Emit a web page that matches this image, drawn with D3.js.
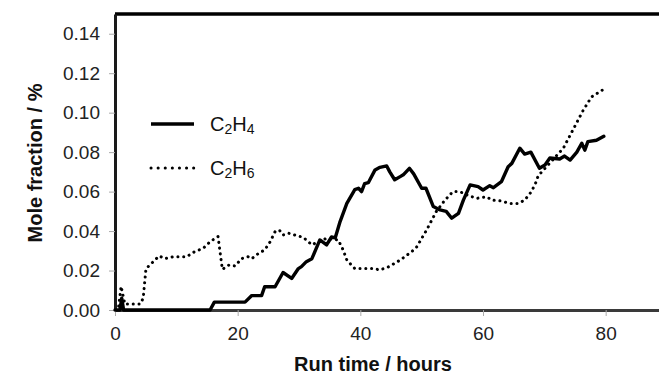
<!DOCTYPE html>
<html>
<head>
<meta charset="utf-8">
<script src="https://cdn.jsdelivr.net/npm/d3@7"></script>
<style>
  html, body { margin: 0; padding: 0; background: #fff; }
  svg { display: block; font-family: "Liberation Sans", Arial, Helvetica, sans-serif; }
</style>
</head>
<body>
<svg id="chart" width="659" height="374"></svg>
<script>
// Ethylene (C2H4) mole fraction over the run
const c2h4Hours = [0, 0.8, 1.1, 1.4, 15.5, 16.2, 21.2, 22.3, 23.9, 24.4,
  26.1, 27.4, 28.8, 29.9, 30.4, 31.2, 32.1, 33.4, 34.5, 35.3, 35.9, 36.7,
  37.8, 39.1, 39.7, 40.2, 40.7, 41.3, 42.4, 43.2, 44.3, 44.8, 45.6, 46.5,
  47.0, 48.0, 48.7, 50.0, 50.7, 51.9, 53.0, 54.0, 54.9, 56.0, 56.8, 57.9,
  59.2, 60.0, 61.1, 61.7, 63.0, 64.1, 64.7, 66.0, 66.8, 67.8, 69.2, 70.1,
  70.9, 72.5, 73.3, 74.2, 75.3, 76.1, 76.6, 77.1, 78.5, 79.7];
const c2h4Values = [0, 0, 0.006, 0, 0, 0.004, 0.004, 0.0073, 0.0073, 0.0118,
  0.0118, 0.019, 0.016, 0.021, 0.022, 0.0245, 0.026, 0.0355, 0.033, 0.037, 0.0365, 0.0448,
  0.054, 0.061, 0.0617, 0.060, 0.064, 0.0645, 0.071, 0.0723, 0.073, 0.070, 0.066, 0.0676,
  0.0685, 0.0718, 0.069, 0.0617, 0.0617, 0.0524, 0.0507, 0.050, 0.0465, 0.049, 0.0557, 0.0634,
  0.0625, 0.0608, 0.063, 0.062, 0.065, 0.0726, 0.0743, 0.082, 0.079, 0.080, 0.0718, 0.0735,
  0.077, 0.0765, 0.078, 0.076, 0.080, 0.0845, 0.081, 0.0853, 0.086, 0.088];

// Ethane (C2H6) mole fraction over the run
const c2h6Hours = [0.6, 1.0, 1.6, 4.1, 4.6, 5.05, 5.7, 6.5, 7.2, 8.1, 9.5, 11.7,
  13.0, 14.4, 15.5, 16.8, 17.1, 17.5, 18.6, 19.6, 20.6, 21.7, 22.3, 23.4,
  24.4, 25.3, 26.1, 26.8, 27.4, 28.3, 29.6, 30.7, 32.1, 33.1, 34.5, 36.4,
  37.2, 37.8, 39.1, 40.0, 42.1, 43.2, 44.5, 46.5, 48.4, 49.2, 50.8, 52.4,
  53.8, 55.1, 56.2, 57.6, 59.0, 60.6, 61.4, 62.8, 64.4, 65.7, 66.8, 67.9,
  68.6, 69.0, 73.1, 76.3, 77.7, 79.5];
const c2h6Values = [0.002, 0.012, 0.003, 0.003, 0.006, 0.021, 0.0228, 0.0253, 0.0274, 0.026, 0.027, 0.027,
  0.0296, 0.0313, 0.0346, 0.0372, 0.030, 0.0206, 0.0228, 0.0223, 0.026, 0.027, 0.026, 0.0287,
  0.0304, 0.0346, 0.0397, 0.0405, 0.038, 0.0389, 0.0377, 0.0368, 0.033, 0.0346, 0.0363, 0.0355,
  0.0304, 0.0253, 0.021, 0.021, 0.021, 0.0203, 0.0217, 0.0253, 0.0296, 0.032, 0.0405, 0.050,
  0.0557, 0.060, 0.060, 0.058, 0.0566, 0.0574, 0.0557, 0.0553, 0.054, 0.054, 0.0557, 0.060,
  0.0645, 0.068, 0.082, 0.101, 0.108, 0.1115];

const xTicks = [0, 20, 40, 60, 80];
const yTicks = [0, 0.02, 0.04, 0.06, 0.08, 0.10, 0.12, 0.14];

const svg = d3.select("#chart");
const x = d3.scaleLinear().domain([0, 90]).range([115, 667]);
const y = d3.scaleLinear().domain([0, 0.15]).range([310, 14]);

// frame top edge
svg.append("line")
  .attr("x1", x(0)).attr("x2", x(90))
  .attr("y1", y(0.15)).attr("y2", y(0.15))
  .attr("stroke", "#000").attr("stroke-width", 3.6);

// axes
const xAxis = svg.append("g")
  .attr("transform", `translate(0,${y(0)})`)
  .call(d3.axisBottom(x).tickValues(xTicks).tickFormat(d3.format("d"))
    .tickSize(6).tickSizeOuter(0).tickPadding(11));
const yAxis = svg.append("g")
  .attr("transform", `translate(${x(0)},0)`)
  .call(d3.axisLeft(y).tickValues(yTicks).tickFormat(d3.format(".2f"))
    .tickSize(6).tickSizeOuter(0).tickPadding(9));

[xAxis, yAxis].forEach(g => {
  g.selectAll(".tick line").attr("stroke", "#aaa").attr("stroke-width", 1);
  g.selectAll(".tick text").attr("fill", "#222").style("font-size", "19px")
    .style("font-family", "'Liberation Sans', Arial, sans-serif");
});
xAxis.select(".domain").attr("stroke", "#3a3a3a").attr("stroke-width", 3);
yAxis.select(".domain").attr("stroke", "#1a1a1a").attr("stroke-width", 3);

// axis titles
svg.append("text")
  .attr("x", 373).attr("y", 371)
  .attr("text-anchor", "middle")
  .style("font-size", "20px").style("font-weight", "bold").attr("fill", "#111")
  .text("Run time / hours");
svg.append("text")
  .attr("transform", "translate(42,163) rotate(-90)")
  .attr("text-anchor", "middle")
  .style("font-size", "20px").style("font-weight", "bold").attr("fill", "#111")
  .text("Mole fraction / %");

// series
const series = [
  { sub: ["2", "4"], hours: c2h4Hours, values: c2h4Values, dash: null, width: 3.4 },
  { sub: ["2", "6"], hours: c2h6Hours, values: c2h6Values, dash: "0.1,5.7", width: 3 }
];

const line = d3.line().x(d => x(d[0])).y(d => y(d[1]));

series.forEach(s => {
  const pts = s.hours.map((h, i) => [h, s.values[i]]);
  svg.append("path")
    .datum(pts)
    .attr("fill", "none")
    .attr("stroke", "#000")
    .attr("stroke-width", s.width)
    .attr("stroke-linejoin", "round")
    .attr("stroke-linecap", "round")
    .attr("stroke-dasharray", s.dash)
    .attr("d", line);
});

// legend
const legend = svg.append("g");
series.forEach((s, i) => {
  const ly = 124 + i * 44;
  legend.append("line")
    .attr("x1", 151).attr("x2", 194)
    .attr("y1", ly).attr("y2", ly)
    .attr("stroke", "#000")
    .attr("stroke-width", s.width)
    .attr("stroke-linecap", s.dash ? "round" : "butt")
    .attr("stroke-dasharray", s.dash ? "0.1,7" : null);
  const t = legend.append("text")
    .attr("x", 210).attr("y", ly + 7)
    .attr("fill", "#111")
    .style("font-size", "20px");
  t.append("tspan").text("C");
  t.append("tspan").attr("dy", 3).style("font-size", "14px").text(s.sub[0]);
  t.append("tspan").attr("dy", -3).text("H");
  t.append("tspan").attr("dy", 3).style("font-size", "14px").text(s.sub[1]);
});
</script>
</body>
</html>
